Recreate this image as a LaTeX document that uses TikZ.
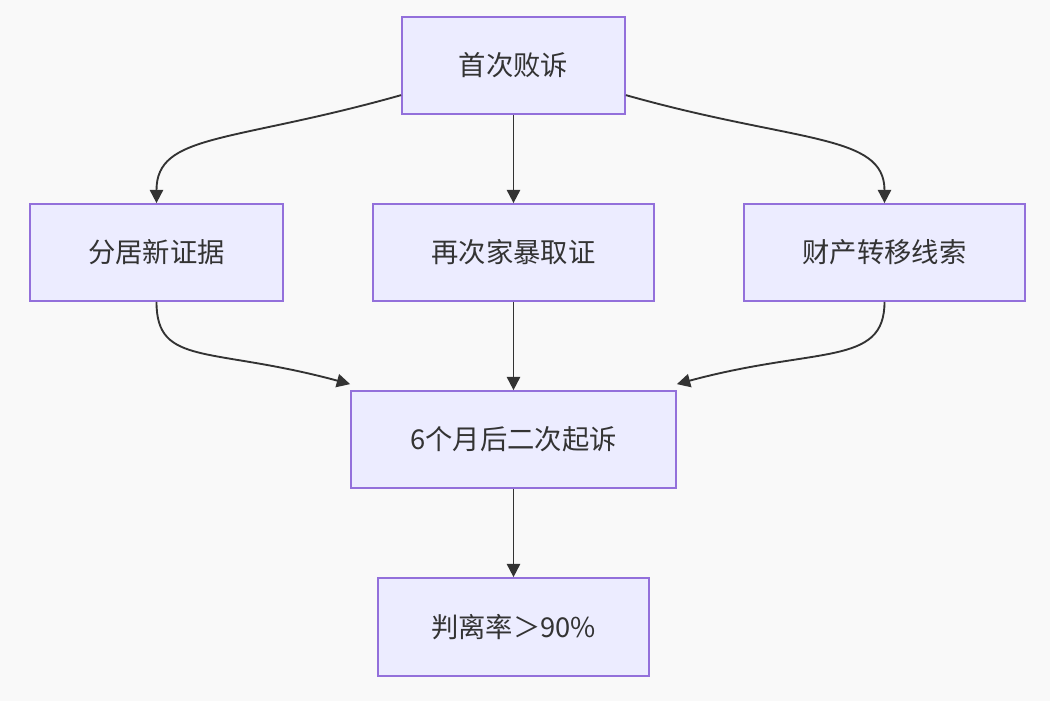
\documentclass[tikz,border=0pt]{standalone}
\usepackage{fontspec}
\newfontfamily\cjk{Noto Sans CJK SC}
\usetikzlibrary{arrows.meta,calc}

\definecolor{boxfill}{RGB}{236,236,255}
\definecolor{boxline}{RGB}{147,112,219}
\definecolor{inkgray}{RGB}{51,51,51}
\definecolor{paper}{RGB}{249,249,249}

\tikzset{
  stepnode/.style={draw=boxline,fill=boxfill,line width=1.3pt,inner sep=0pt,
    text=inkgray,font=\cjk\fontsize{20.5}{24}\selectfont},
  flow/.style={draw=inkgray,line width=1.4pt,-{Triangle[length=10pt,width=10pt]}}
}

\begin{document}
\begin{tikzpicture}[x=0.75pt,y=0.75pt,yscale=-1]
%Shape: background
\fill [paper] (0,0) rectangle (1050,701);

% Text Node
\node [stepnode,minimum width=167.25pt,minimum height=72.75pt] (first) at (513.5,65.5) {首次败诉};
% Text Node
\node [stepnode,minimum width=189.75pt,minimum height=72.75pt] (apart) at (156.5,252.5) {分居新证据};
% Text Node
\node [stepnode,minimum width=210.75pt,minimum height=72.75pt] (abuse) at (513.5,252.5) {再次家暴取证};
% Text Node
\node [stepnode,minimum width=210.75pt,minimum height=72.75pt] (assets) at (884.5,252.5) {财产转移线索};
% Text Node
\node [stepnode,minimum width=243.75pt,minimum height=72.75pt] (second) at (513.5,439.5) {6个月后二次起诉};
% Text Node
\node [stepnode,minimum width=203.25pt,minimum height=73.5pt] (rate) at (513.5,627) {判离率＞90\%};

%Curves from the first suit
\draw [flow] ($(first.south west)!0.4!(first.west)$) .. controls +(-170,48) and +(0,-70) .. (apart.north);
\draw [flow] (first.south) -- (abuse.north);
\draw [flow] ($(first.south east)!0.4!(first.east)$) .. controls +(170,48) and +(0,-70) .. (assets.north);
%Curves into the second suit
\draw [flow] (apart.south) .. controls +(0,65) and +(-140,-38) .. ([yshift=-4.5pt]second.north west);
\draw [flow] (abuse.south) -- (second.north);
\draw [flow] (assets.south) .. controls +(0,65) and +(140,-38) .. ([yshift=-4.5pt]second.north east);
%Straight Lines
\draw [flow] (second.south) -- (rate.north);

\end{tikzpicture}
\end{document}
